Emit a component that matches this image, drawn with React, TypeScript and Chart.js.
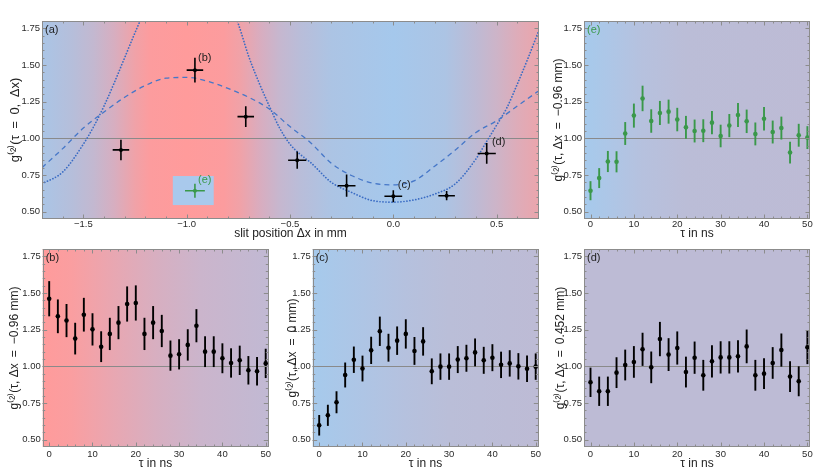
import React, { useEffect, useRef } from 'react';
import { Chart, registerables } from 'chart.js';
Chart.register(...registerables);

// ---------- data: panel (a) ----------
const slitX = [-1.318, -0.96, -0.714, -0.465, -0.226, 0.0, 0.258, 0.452];
const g2Zero = [0.921, 1.465, 1.148, 0.851, 0.677, 0.605, 0.609, 0.897];
const g2ZeroErrY = [0.07, 0.085, 0.071, 0.059, 0.076, 0.041, 0.032, 0.071];
const g2ZeroErrX = [0.04, 0.04, 0.04, 0.044, 0.043, 0.043, 0.04, 0.044];
const greenX = [-0.96];
const greenY = [0.643];
const greenErrY = [0.048];
const greenErrX = [0.048];

const dottedX = [-1.7, -1.6, -1.5, -1.45, -1.4, -1.35, -1.3, -1.25, -1.2, -1.1, -1.0, -0.9, -0.8, -0.75, -0.7, -0.65, -0.6, -0.55, -0.5, -0.45, -0.4, -0.3, -0.2, -0.1, 0, 0.1, 0.2, 0.3, 0.4, 0.45, 0.5, 0.55, 0.6, 0.65, 0.7];
const dottedY = [0.69, 0.77, 0.96, 1.08, 1.22, 1.38, 1.55, 1.72, 1.88, 2.15, 2.28, 2.2, 1.95, 1.78, 1.56, 1.38, 1.22, 1.07, 0.96, 0.89, 0.835, 0.70, 0.63, 0.575, 0.565, 0.58, 0.62, 0.69, 0.86, 0.975, 1.09, 1.21, 1.37, 1.54, 1.72];

const dashedX = [-1.7, -1.6, -1.5, -1.4, -1.3, -1.2, -1.1, -1.0, -0.9, -0.8, -0.7, -0.6, -0.5, -0.4, -0.3, -0.2, -0.1, 0, 0.1, 0.2, 0.3, 0.4, 0.5, 0.6, 0.7];
const dashedY = [0.80, 0.93, 1.07, 1.18, 1.28, 1.36, 1.41, 1.415, 1.39, 1.34, 1.28, 1.20, 1.08, 0.97, 0.83, 0.745, 0.695, 0.683, 0.71, 0.81, 0.92, 1.04, 1.12, 1.22, 1.32];

// ---------- data: tau panels ----------
const tauNs = [0, 2, 4, 6, 8, 10, 12, 14, 16, 18, 20, 22, 24, 26, 28, 30, 32, 34, 36, 38, 40, 42, 44, 46, 48, 50];

const g2E = [0.643, 0.729, 0.842, 0.840, 1.033, 1.155, 1.272, 1.118, 1.173, 1.182, 1.128, 1.075, 1.050, 1.052, 1.107, 1.016, 1.087, 1.159, 1.116, 1.030, 1.134, 1.043, 1.070, 0.903, 1.021, 1.005];
const errE = [0.065, 0.068, 0.072, 0.072, 0.078, 0.082, 0.087, 0.08, 0.082, 0.082, 0.08, 0.078, 0.078, 0.078, 0.08, 0.077, 0.079, 0.082, 0.08, 0.078, 0.08, 0.078, 0.078, 0.074, 0.078, 0.078];

const g2B = [1.461, 1.341, 1.312, 1.189, 1.352, 1.252, 1.134, 1.221, 1.298, 1.425, 1.432, 1.221, 1.298, 1.241, 1.073, 1.082, 1.146, 1.277, 1.10, 1.10, 1.055, 1.023, 1.041, 0.973, 0.966, 1.02];
const errB = [0.12, 0.115, 0.113, 0.108, 0.115, 0.11, 0.105, 0.11, 0.113, 0.12, 0.12, 0.11, 0.113, 0.11, 0.103, 0.103, 0.107, 0.113, 0.105, 0.105, 0.102, 0.1, 0.1, 0.097, 0.097, 0.1];

const g2C = [0.598, 0.666, 0.755, 0.941, 1.045, 0.985, 1.109, 1.239, 1.127, 1.175, 1.221, 1.105, 1.17, 0.966, 0.998, 0.998, 1.046, 1.055, 1.095, 1.041, 1.059, 1.01, 1.02, 1.0, 0.984, 0.998];
const errC = [0.07, 0.072, 0.075, 0.085, 0.09, 0.088, 0.093, 0.1, 0.095, 0.097, 0.1, 0.095, 0.097, 0.088, 0.09, 0.09, 0.092, 0.092, 0.095, 0.092, 0.092, 0.09, 0.09, 0.09, 0.09, 0.09];

const g2D = [0.891, 0.83, 0.83, 0.957, 1.009, 1.03, 1.116, 0.993, 1.186, 1.08, 1.125, 0.961, 1.059, 0.939, 1.034, 1.061, 1.061, 1.068, 1.136, 0.939, 0.95, 1.023, 1.111, 0.93, 0.898, 1.13];
const errD = [0.1, 0.1, 0.1, 0.105, 0.105, 0.108, 0.113, 0.108, 0.117, 0.112, 0.113, 0.105, 0.11, 0.105, 0.11, 0.11, 0.11, 0.11, 0.115, 0.105, 0.105, 0.108, 0.113, 0.105, 0.102, 0.115];

// ---------- ticks ----------
const yTickValues = [0.5, 0.75, 1.0, 1.25, 1.5, 1.75];
const yTickLabels = ['0.50', '0.75', '1.00', '1.25', '1.50', '1.75'];
const slitTickValues = [-1.5, -1.0, -0.5, 0.0, 0.5];
const slitTickLabels = ['\u22121.5', '\u22121.0', '\u22120.5', '0.0', '0.5'];
const tauTickValues = [0, 10, 20, 30, 40, 50];
const tauTickLabels = ['0', '10', '20', '30', '40', '50'];

// ---------- styling ----------
const FONT = "'Liberation Sans', Arial, Helvetica, sans-serif";
const GREEN = '#3a984a';
const LAV = 'rgb(189,187,213)';
const TEXT = '#2a2a2a';
const FRAME = '#8c8c8c';

type Label = { text: string; x: number; y: number; color?: string };
type Spec = {
  left: number; top: number; w: number; h: number;
  padTop: number; padRight: number; yW: number; xH: number;
  xMin: number; xMax: number; xTicks: number[]; xLabels: string[]; xMinor: number;
  xTitle: string; yTitle: string; xTitlePad: number; yTitlePad: number; xTickPad: number; yTitleSize: number;
  bg: [number, string][];
  datasets: any[];
  panel: string; panelColor?: string;
  labels?: Label[];
  box?: { x0: number; x1: number; y0: number; y1: number; color: string };
};

const zip = (xs: number[], ys: number[]) => xs.map((x, i) => ({ x, y: ys[i] }));

function pointsDataset(xs: number[], ys: number[], errY: number[], errX: number[] | null, color: string, r: number, lw: number) {
  return {
    data: zip(xs, ys), errY, errX, errColor: color, errWidth: lw,
    showLine: false, pointRadius: r, pointHoverRadius: r,
    pointBackgroundColor: color, pointBorderWidth: 0, borderColor: color,
  };
}

function makePlugin(p: Spec) {
  return {
    id: 'panel',
    beforeDraw(chart: any) {
      const { ctx, chartArea: ca } = chart;
      const xs = chart.scales.x, ys = chart.scales.y;
      ctx.save();
      const grad = ctx.createLinearGradient(ca.left, 0, ca.right, 0);
      p.bg.forEach(([v, c]) => {
        const t = (xs.getPixelForValue(v) - ca.left) / (ca.right - ca.left);
        grad.addColorStop(Math.min(1, Math.max(0, t)), c);
      });
      ctx.fillStyle = grad;
      ctx.fillRect(ca.left, ca.top, ca.right - ca.left, ca.bottom - ca.top);
      if (p.box) {
        const bx0 = xs.getPixelForValue(p.box.x0), bx1 = xs.getPixelForValue(p.box.x1);
        const by0 = ys.getPixelForValue(p.box.y0), by1 = ys.getPixelForValue(p.box.y1);
        ctx.fillStyle = p.box.color;
        ctx.fillRect(bx0, by1, bx1 - bx0, by0 - by1);
      }
      const y1 = Math.round(ys.getPixelForValue(1)) + 0.5;
      ctx.strokeStyle = '#8a8a8a';
      ctx.lineWidth = 1.2;
      ctx.beginPath();
      ctx.moveTo(ca.left, y1);
      ctx.lineTo(ca.right, y1);
      ctx.stroke();
      ctx.restore();
    },
    beforeDatasetDraw(chart: any, args: any) {
      const ds = chart.data.datasets[args.index];
      if (!ds.errY) return;
      const { ctx } = chart;
      const xs = chart.scales.x, ys = chart.scales.y;
      ctx.save();
      ctx.strokeStyle = ds.errColor;
      ctx.lineWidth = ds.errWidth;
      ds.data.forEach((pt: any, i: number) => {
        const px = xs.getPixelForValue(pt.x);
        const py = ys.getPixelForValue(pt.y);
        ctx.beginPath();
        ctx.moveTo(px, ys.getPixelForValue(pt.y - ds.errY[i]));
        ctx.lineTo(px, ys.getPixelForValue(pt.y + ds.errY[i]));
        if (ds.errX) {
          ctx.moveTo(xs.getPixelForValue(pt.x - ds.errX[i]), py);
          ctx.lineTo(xs.getPixelForValue(pt.x + ds.errX[i]), py);
        }
        ctx.stroke();
      });
      ctx.restore();
    },
    afterDraw(chart: any) {
      const { ctx, chartArea: ca } = chart;
      const xs = chart.scales.x, ys = chart.scales.y;
      ctx.save();
      ctx.strokeStyle = FRAME;
      ctx.lineWidth = 1;
      ctx.strokeRect(Math.round(ca.left) + 0.5, Math.round(ca.top) + 0.5, Math.round(ca.right - ca.left) - 1, Math.round(ca.bottom - ca.top) - 1);
      ctx.beginPath();
      const tickX = (v: number, len: number) => {
        const px = Math.round(xs.getPixelForValue(v)) + 0.5;
        ctx.moveTo(px, ca.bottom); ctx.lineTo(px, ca.bottom - len);
        ctx.moveTo(px, ca.top); ctx.lineTo(px, ca.top + len);
      };
      const tickY = (v: number, len: number) => {
        const py = Math.round(ys.getPixelForValue(v)) + 0.5;
        ctx.moveTo(ca.left, py); ctx.lineTo(ca.left + len, py);
        ctx.moveTo(ca.right, py); ctx.lineTo(ca.right - len, py);
      };
      for (let k = Math.ceil(p.xMin / p.xMinor - 1e-9); k * p.xMinor <= p.xMax + 1e-9; k++) tickX(k * p.xMinor, 2.5);
      p.xTicks.forEach((v) => tickX(v, 4.5));
      for (let k = 10; k <= 36; k++) tickY(k * 0.05, 2.5);
      yTickValues.forEach((v) => tickY(v, 4.5));
      ctx.stroke();
      ctx.font = `11px ${FONT}`;
      ctx.textBaseline = 'middle';
      ctx.textAlign = 'left';
      ctx.fillStyle = p.panelColor || '#222';
      ctx.fillText(p.panel, ca.left + 3, ca.top + 9);
      (p.labels || []).forEach((l) => {
        ctx.fillStyle = l.color || '#222';
        ctx.fillText(l.text, xs.getPixelForValue(l.x), ys.getPixelForValue(l.y));
      });
      ctx.restore();
    },
  };
}

function buildConfig(p: Spec): any {
  const tickFont = { family: FONT, size: 9.5 };
  const titleFont = { family: FONT, size: 12 };
  return {
    type: 'scatter',
    data: { datasets: p.datasets },
    options: {
      animation: false,
      responsive: false,
      events: [],
      layout: { padding: { top: p.padTop, right: p.padRight, left: 0, bottom: 0 } },
      plugins: { legend: { display: false }, tooltip: { enabled: false } },
      scales: {
        x: {
          type: 'linear', min: p.xMin, max: p.xMax,
          afterBuildTicks: (s: any) => { s.ticks = p.xTicks.map((v) => ({ value: v })); },
          afterFit: (s: any) => { s.height = p.xH; },
          ticks: {
            callback: (v: number) => { const i = p.xTicks.indexOf(v); return i >= 0 ? p.xLabels[i] : ''; },
            font: tickFont, color: TEXT, padding: p.xTickPad, maxRotation: 0, autoSkip: false,
          },
          grid: { display: false, drawTicks: false }, border: { display: false },
          title: { display: true, text: p.xTitle, font: titleFont, color: '#222', padding: { top: 0, bottom: p.xTitlePad } },
        },
        y: {
          type: 'linear', min: 0.45, max: 1.8,
          afterBuildTicks: (s: any) => { s.ticks = yTickValues.map((v) => ({ value: v })); },
          afterFit: (s: any) => { s.width = p.yW; },
          ticks: {
            callback: (v: number) => { const i = yTickValues.indexOf(v); return i >= 0 ? yTickLabels[i] : ''; },
            font: tickFont, color: TEXT, padding: 2, autoSkip: false,
          },
          grid: { display: false, drawTicks: false }, border: { display: false },
          title: { display: true, text: p.yTitle, font: { family: FONT, size: p.yTitleSize }, color: '#222', padding: { top: p.yTitlePad, bottom: 0 } },
        },
      },
    },
    plugins: [makePlugin(p)],
  };
}

const tauBase = {
  xMin: -1.5, xMax: 50.6, xTicks: tauTickValues, xLabels: tauTickLabels, xMinor: 2,
  xTitle: '\u03c4 in ns', yTitleSize: 12,
};

const specs: Spec[] = [
  {
    left: 0, top: 0, w: 548, h: 242, padTop: 21, padRight: 9, yW: 42, xH: 23,
    xMin: -1.7, xMax: 0.705, xTicks: slitTickValues, xLabels: slitTickLabels, xMinor: 0.1,
    xTitle: 'slit position \u0394x in mm', yTitle: 'g\u207d\u00b2\u207e(\u03c4\u2002=\u20020,\u2002\u0394x)',
    xTitlePad: 0.8, yTitlePad: 7.4, xTickPad: 0, yTitleSize: 13,
    bg: [
      [-1.7, 'rgb(170,197,230)'], [-1.55, 'rgb(182,190,218)'], [-1.45, 'rgb(195,184,208)'], [-1.35, 'rgb(215,174,192)'],
      [-1.25, 'rgb(240,162,168)'], [-1.18, 'rgb(252,156,158)'], [-1.0, 'rgb(255,155,155)'], [-0.82, 'rgb(252,156,158)'],
      [-0.74, 'rgb(240,162,168)'], [-0.65, 'rgb(218,172,190)'], [-0.55, 'rgb(198,183,207)'], [-0.45, 'rgb(185,189,217)'],
      [-0.3, 'rgb(172,196,228)'], [0.0, 'rgb(165,200,236)'], [0.25, 'rgb(172,196,228)'], [0.4, 'rgb(190,186,212)'],
      [0.5, 'rgb(205,180,200)'], [0.6, 'rgb(222,172,185)'], [0.705, 'rgb(235,165,172)'],
    ],
    datasets: [
      pointsDataset(greenX, greenY, greenErrY, greenErrX, GREEN, 2, 1.6),
      pointsDataset(slitX, g2Zero, g2ZeroErrY, g2ZeroErrX, '#000', 2, 1.6),
      {
        type: 'line', data: zip(dashedX, dashedY), showLine: true, borderColor: '#4677c8', borderWidth: 1.3,
        borderDash: [5, 4], pointRadius: 0, cubicInterpolationMode: 'monotone', fill: false,
      },
      {
        type: 'line', data: zip(dottedX, dottedY), showLine: true, borderColor: '#3a6cc4', borderWidth: 1.7,
        borderDash: [0.1, 2.9], borderCapStyle: 'round', pointRadius: 0, cubicInterpolationMode: 'monotone', fill: false,
      },
    ],
    panel: '(a)',
    labels: [
      { text: '(b)', x: -0.945, y: 1.551 },
      { text: '(c)', x: 0.022, y: 0.681 },
      { text: '(d)', x: 0.477, y: 0.973 },
      { text: '(e)', x: -0.945, y: 0.719, color: GREEN },
    ],
    box: { x0: -1.067, x1: -0.869, y0: 0.545, y1: 0.743, color: 'rgb(169,201,236)' },
  },
  {
    ...tauBase,
    left: 541, top: 0, w: 289, h: 242, padTop: 21, padRight: 20, yW: 43, xH: 23,
    yTitle: 'g\u207d\u00b2\u207e(\u03c4, \u0394x\u2002=\u2002\u22120.96 mm)', xTitlePad: 0.8, yTitlePad: 10.3, xTickPad: 0,
    bg: [[-1.5, 'rgb(166,202,236)'], [5, 'rgb(174,198,230)'], [12, 'rgb(182,193,222)'], [22, 'rgb(187,189,215)'], [50.6, LAV]],
    datasets: [pointsDataset(tauNs, g2E, errE, null, GREEN, 2.3, 1.9)],
    panel: '(e)', panelColor: GREEN,
  },
  {
    ...tauBase,
    left: 0, top: 238, w: 275, h: 234, padTop: 11, padRight: 6.7, yW: 42.7, xH: 25,
    yTitle: 'g\u207d\u00b2\u207e(\u03c4, \u0394x\u2002=\u2002\u22120.96 mm)', xTitlePad: 1.3, yTitlePad: 7.8, xTickPad: 2,
    bg: [[-1.5, 'rgb(255,155,155)'], [5, 'rgb(250,158,160)'], [15, 'rgb(232,167,178)'], [25, 'rgb(215,175,193)'], [35, 'rgb(203,181,204)'], [50.6, 'rgb(193,185,211)']],
    datasets: [pointsDataset(tauNs, g2B, errB, null, '#000', 2.3, 1.9)],
    panel: '(b)',
  },
  {
    ...tauBase,
    left: 270, top: 238, w: 275, h: 234, padTop: 11, padRight: 6.7, yW: 42.7, xH: 25,
    yTitle: 'g\u207d\u00b2\u207e(\u03c4, \u0394x\u2002=\u20020 mm)', xTitlePad: 1.3, yTitlePad: 15.3, xTickPad: 2,
    bg: [[-1.5, 'rgb(166,202,236)'], [10, 'rgb(174,197,229)'], [20, 'rgb(181,193,222)'], [30, 'rgb(186,190,216)'], [50.6, LAV]],
    datasets: [pointsDataset(tauNs, g2C, errC, null, '#000', 2.3, 1.9)],
    panel: '(c)',
  },
  {
    ...tauBase,
    left: 541, top: 238, w: 289, h: 234, padTop: 11, padRight: 20, yW: 43, xH: 25,
    yTitle: 'g\u207d\u00b2\u207e(\u03c4, \u0394x\u2002=\u20020.452 mm)', xTitlePad: 1.3, yTitlePad: 12.8, xTickPad: 2,
    bg: [[-1.5, LAV], [50.6, LAV]],
    datasets: [pointsDataset(tauNs, g2D, errD, null, '#000', 2.3, 1.9)],
    panel: '(d)',
  },
];

function Panel({ spec }: { spec: Spec }) {
  const ref = useRef<HTMLCanvasElement>(null);
  useEffect(() => {
    const chart = new Chart(ref.current as HTMLCanvasElement, buildConfig(spec));
    return () => chart.destroy();
  }, [spec]);
  return (
    <canvas
      ref={ref}
      width={spec.w}
      height={spec.h}
      style={{ position: 'absolute', left: spec.left, top: spec.top, width: spec.w, height: spec.h }}
    />
  );
}

export default function App() {
  return (
    <div style={{ position: 'relative', width: 830, height: 469, overflow: 'hidden', background: '#fff' }}>
      <style>{'body{margin:0;overflow:hidden;}'}</style>
      {specs.map((s, i) => (
        <Panel key={i} spec={s} />
      ))}
    </div>
  );
}
